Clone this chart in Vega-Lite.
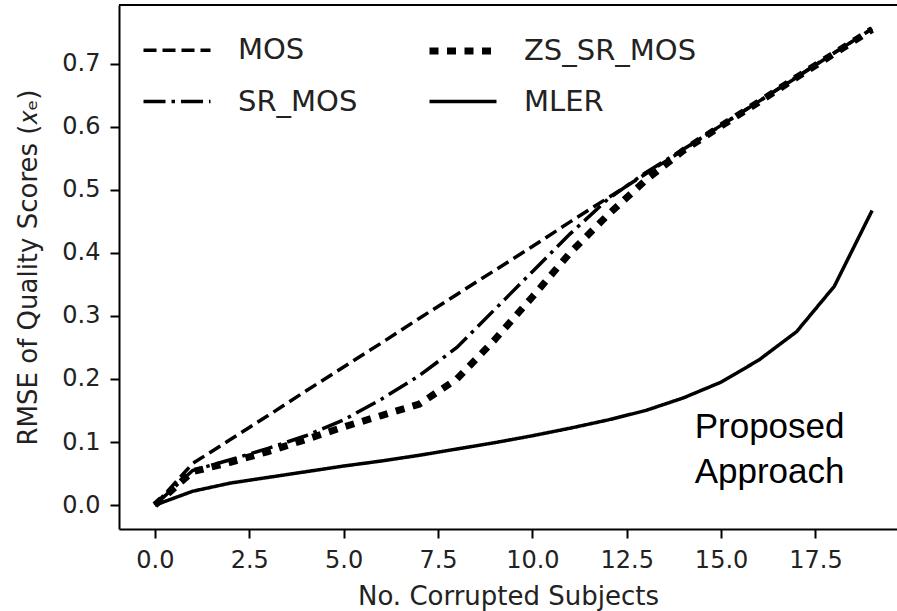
{
  "$schema": "https://vega.github.io/schema/vega-lite/v6.json",
  "autosize": "none",
  "width": 778,
  "height": 524,
  "padding": {"left": 119, "top": 5, "right": 0, "bottom": 82},
  "background": "white",
  "config": {
    "view": {"stroke": null},
    "font": "DejaVu Sans",
    "axis": {
      "domainColor": "black", "domainWidth": 2, "tickColor": "black", "tickWidth": 2, "tickSize": 9,
      "labelFont": "DejaVu Sans", "labelFontSize": 24, "labelColor": "#222",
      "titleFont": "DejaVu Sans", "titleFontSize": 26, "titleColor": "#222", "titleFontWeight": "normal",
      "grid": false
    }
  },
  "data": {"values": [
    {"n":0,"method":"MOS","rmse":0},{"n":1,"method":"MOS","rmse":0.066},{"n":2,"method":"MOS","rmse":0.104},{"n":3,"method":"MOS","rmse":0.142},{"n":4,"method":"MOS","rmse":0.181},{"n":5,"method":"MOS","rmse":0.219},{"n":6,"method":"MOS","rmse":0.257},{"n":7,"method":"MOS","rmse":0.296},{"n":8,"method":"MOS","rmse":0.334},{"n":9,"method":"MOS","rmse":0.372},{"n":10,"method":"MOS","rmse":0.41},{"n":11,"method":"MOS","rmse":0.449},{"n":12,"method":"MOS","rmse":0.487},{"n":13,"method":"MOS","rmse":0.525},{"n":14,"method":"MOS","rmse":0.563},{"n":15,"method":"MOS","rmse":0.602},{"n":16,"method":"MOS","rmse":0.64},{"n":17,"method":"MOS","rmse":0.678},{"n":18,"method":"MOS","rmse":0.717},{"n":19,"method":"MOS","rmse":0.755},
    {"n":0,"method":"ZS_SR_MOS","rmse":0},{"n":1,"method":"ZS_SR_MOS","rmse":0.053},{"n":2,"method":"ZS_SR_MOS","rmse":0.068},{"n":3,"method":"ZS_SR_MOS","rmse":0.085},{"n":4,"method":"ZS_SR_MOS","rmse":0.104},{"n":5,"method":"ZS_SR_MOS","rmse":0.124},{"n":6,"method":"ZS_SR_MOS","rmse":0.142},{"n":7,"method":"ZS_SR_MOS","rmse":0.16},{"n":8,"method":"ZS_SR_MOS","rmse":0.2},{"n":9,"method":"ZS_SR_MOS","rmse":0.262},{"n":10,"method":"ZS_SR_MOS","rmse":0.33},{"n":11,"method":"ZS_SR_MOS","rmse":0.4},{"n":12,"method":"ZS_SR_MOS","rmse":0.46},{"n":13,"method":"ZS_SR_MOS","rmse":0.515},{"n":14,"method":"ZS_SR_MOS","rmse":0.562},{"n":15,"method":"ZS_SR_MOS","rmse":0.601},{"n":16,"method":"ZS_SR_MOS","rmse":0.639},{"n":17,"method":"ZS_SR_MOS","rmse":0.678},{"n":18,"method":"ZS_SR_MOS","rmse":0.716},{"n":19,"method":"ZS_SR_MOS","rmse":0.754},
    {"n":0,"method":"SR_MOS","rmse":0},{"n":1,"method":"SR_MOS","rmse":0.055},{"n":2,"method":"SR_MOS","rmse":0.072},{"n":3,"method":"SR_MOS","rmse":0.09},{"n":4,"method":"SR_MOS","rmse":0.11},{"n":5,"method":"SR_MOS","rmse":0.135},{"n":6,"method":"SR_MOS","rmse":0.168},{"n":7,"method":"SR_MOS","rmse":0.205},{"n":8,"method":"SR_MOS","rmse":0.25},{"n":9,"method":"SR_MOS","rmse":0.31},{"n":10,"method":"SR_MOS","rmse":0.37},{"n":11,"method":"SR_MOS","rmse":0.43},{"n":12,"method":"SR_MOS","rmse":0.485},{"n":13,"method":"SR_MOS","rmse":0.527},{"n":14,"method":"SR_MOS","rmse":0.564},{"n":15,"method":"SR_MOS","rmse":0.602},{"n":16,"method":"SR_MOS","rmse":0.64},{"n":17,"method":"SR_MOS","rmse":0.679},{"n":18,"method":"SR_MOS","rmse":0.717},{"n":19,"method":"SR_MOS","rmse":0.755},
    {"n":0,"method":"MLER","rmse":0},{"n":1,"method":"MLER","rmse":0.022},{"n":2,"method":"MLER","rmse":0.035},{"n":3,"method":"MLER","rmse":0.044},{"n":4,"method":"MLER","rmse":0.053},{"n":5,"method":"MLER","rmse":0.062},{"n":6,"method":"MLER","rmse":0.07},{"n":7,"method":"MLER","rmse":0.079},{"n":8,"method":"MLER","rmse":0.089},{"n":9,"method":"MLER","rmse":0.099},{"n":10,"method":"MLER","rmse":0.11},{"n":11,"method":"MLER","rmse":0.122},{"n":12,"method":"MLER","rmse":0.135},{"n":13,"method":"MLER","rmse":0.15},{"n":14,"method":"MLER","rmse":0.17},{"n":15,"method":"MLER","rmse":0.195},{"n":16,"method":"MLER","rmse":0.23},{"n":17,"method":"MLER","rmse":0.275},{"n":18,"method":"MLER","rmse":0.347},{"n":19,"method":"MLER","rmse":0.467}
  ]},
  "layer": [
    {
      "mark": {"type": "line", "color": "black", "strokeCap": "butt", "clip": true},
      "encoding": {
        "x": {"field": "n", "type": "quantitative", "scale": {"domain": [-0.95, 19.66], "nice": false, "zero": false},
              "axis": {"values": [0, 2.5, 5, 7.5, 10, 12.5, 15, 17.5], "format": ".1f", "title": "No. Corrupted Subjects", "labelPadding": 10, "titlePadding": 11}},
        "y": {"field": "rmse", "type": "quantitative", "scale": {"domain": [-0.0378, 0.7928], "nice": false, "zero": false},
              "axis": {"values": [0, 0.1, 0.2, 0.3, 0.4, 0.5, 0.6, 0.7], "format": ".1f", "title": "RMSE of Quality Scores (𝑥ₑ)", "labelPadding": 10, "titlePadding": 20}},
        "strokeDash": {"field": "method", "type": "nominal",
          "scale": {"domain": ["MOS", "ZS_SR_MOS", "SR_MOS", "MLER"], "range": [[13, 6], [9, 8.5], [22, 6, 3.5, 6], [1, 0]]},
          "legend": {"title": null, "orient": "none", "legendX": 21, "legendY": 9, "columns": 2, "direction": "horizontal",
                     "symbolType": "stroke", "symbolSize": 4489, "symbolStrokeColor": "black",
                     "labelFont": "DejaVu Sans", "labelFontSize": 29, "labelColor": "#222", "labelOffset": 24, "labelLimit": 400,
                     "rowPadding": -34, "columnPadding": 57, "padding": 0}},
        "strokeWidth": {"field": "method", "type": "nominal",
          "scale": {"type": "ordinal", "domain": ["MOS", "ZS_SR_MOS", "SR_MOS", "MLER"], "range": [3.5, 7, 3.5, 3.5]},
          "legend": {"title": null}},
        "detail": {"field": "method"}
      }
    },
    {
      "mark": {"type": "rule", "color": "black", "strokeWidth": 2},
      "encoding": {"y": {"datum": 0.7928}}
    },
    {
      "data": {"values": [{"n": 14.3, "rmse": 0.107, "label": "Proposed\nApproach"}]},
      "mark": {"type": "text", "font": "Liberation Sans", "fontSize": 35, "align": "left", "baseline": "alphabetic", "lineBreak": "\n", "lineHeight": 45, "color": "black"},
      "encoding": {
        "x": {"field": "n", "type": "quantitative"},
        "y": {"field": "rmse", "type": "quantitative"},
        "text": {"field": "label"}
      }
    }
  ]
}
